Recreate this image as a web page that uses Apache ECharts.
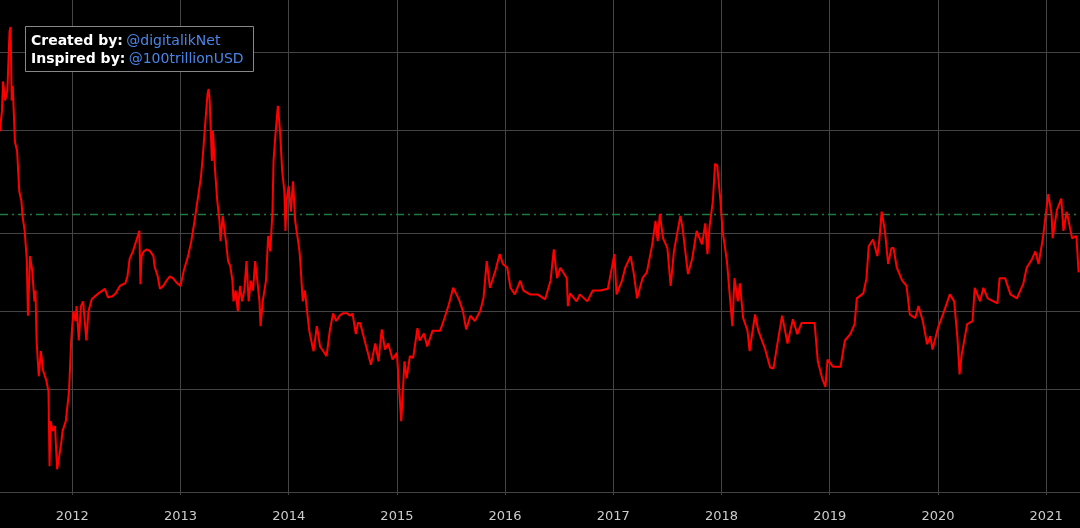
<!DOCTYPE html>
<html>
<head>
<meta charset="utf-8">
<script src="https://cdn.jsdelivr.net/npm/echarts@6/dist/echarts.min.js"></script>
<style>
  html, body { margin: 0; padding: 0; background: #000; }
  #chart { width: 1080px; height: 528px; }
</style>
</head>
<body>
<div id="chart"></div>
<script>
// decimal years
var years = [
  2011.33, 2011.35, 2011.36, 2011.38, 2011.40, 2011.42, 2011.43, 2011.44, 2011.45, 2011.47,
  2011.49, 2011.51, 2011.53, 2011.54, 2011.56, 2011.58, 2011.59, 2011.61, 2011.63, 2011.65,
  2011.66, 2011.67, 2011.69, 2011.71, 2011.73, 2011.76, 2011.78, 2011.79, 2011.80, 2011.82,
  2011.84, 2011.86, 2011.88, 2011.90, 2011.91, 2011.94, 2011.97, 2011.99, 2012.01, 2012.03,
  2012.04, 2012.06, 2012.08, 2012.10, 2012.13, 2012.15, 2012.18, 2012.21, 2012.24, 2012.28,
  2012.30, 2012.33, 2012.37, 2012.40, 2012.44, 2012.47, 2012.49, 2012.51, 2012.53, 2012.56,
  2012.59, 2012.62, 2012.63, 2012.64, 2012.66, 2012.69, 2012.72, 2012.75, 2012.76, 2012.79,
  2012.81, 2012.84, 2012.87, 2012.90, 2012.93, 2012.97, 2013.00, 2013.03, 2013.07, 2013.10,
  2013.13, 2013.15, 2013.17, 2013.19, 2013.21, 2013.23, 2013.25, 2013.26, 2013.27, 2013.29,
  2013.30, 2013.32, 2013.34, 2013.36, 2013.37, 2013.39, 2013.42, 2013.44, 2013.46, 2013.48,
  2013.49, 2013.51, 2013.53, 2013.55, 2013.57, 2013.59, 2013.61, 2013.63, 2013.65, 2013.67,
  2013.69, 2013.71, 2013.73, 2013.74, 2013.76, 2013.79, 2013.81, 2013.83, 2013.85, 2013.86,
  2013.88, 2013.90, 2013.92, 2013.94, 2013.96, 2013.97, 2013.98, 2014.00, 2014.02, 2014.04,
  2014.06, 2014.08, 2014.10, 2014.11, 2014.13, 2014.15, 2014.17, 2014.19, 2014.22, 2014.23,
  2014.26, 2014.29, 2014.32, 2014.35, 2014.38, 2014.41, 2014.44, 2014.47, 2014.50, 2014.54,
  2014.57, 2014.59, 2014.62, 2014.64, 2014.66, 2014.72, 2014.76, 2014.80, 2014.83, 2014.86,
  2014.89, 2014.92, 2014.96, 2015.00, 2015.01, 2015.04, 2015.07, 2015.09, 2015.12, 2015.15,
  2015.19, 2015.21, 2015.25, 2015.28, 2015.33, 2015.40, 2015.44, 2015.48, 2015.52, 2015.56,
  2015.58, 2015.61, 2015.64, 2015.68, 2015.72, 2015.77, 2015.80, 2015.83, 2015.86, 2015.91,
  2015.95, 2015.98, 2016.02, 2016.05, 2016.09, 2016.14, 2016.17, 2016.23, 2016.30, 2016.37,
  2016.42, 2016.45, 2016.48, 2016.51, 2016.57, 2016.58, 2016.60, 2016.66, 2016.69, 2016.76,
  2016.81, 2016.88, 2016.95, 2017.01, 2017.03, 2017.08, 2017.11, 2017.16, 2017.19, 2017.22,
  2017.27, 2017.31, 2017.36, 2017.39, 2017.41, 2017.43, 2017.46, 2017.50, 2017.53, 2017.56,
  2017.62, 2017.64, 2017.69, 2017.73, 2017.77, 2017.82, 2017.85, 2017.87, 2017.89, 2017.92,
  2017.94, 2017.96, 2017.99, 2018.01, 2018.05, 2018.10, 2018.12, 2018.15, 2018.17, 2018.20,
  2018.24, 2018.26, 2018.31, 2018.34, 2018.40, 2018.45, 2018.48, 2018.51, 2018.56, 2018.61,
  2018.66, 2018.70, 2018.74, 2018.82, 2018.86, 2018.89, 2018.93, 2018.96, 2018.98, 2019.03,
  2019.10, 2019.14, 2019.19, 2019.23, 2019.25, 2019.31, 2019.34, 2019.36, 2019.40, 2019.44,
  2019.46, 2019.48, 2019.51, 2019.54, 2019.57, 2019.59, 2019.62, 2019.67, 2019.71, 2019.74,
  2019.79, 2019.82, 2019.86, 2019.90, 2019.93, 2019.95, 2020.00, 2020.05, 2020.11, 2020.15,
  2020.18, 2020.20, 2020.22, 2020.27, 2020.32, 2020.34, 2020.39, 2020.42, 2020.46, 2020.55,
  2020.57, 2020.62, 2020.67, 2020.73, 2020.79, 2020.82, 2020.87, 2020.90, 2020.93, 2020.97,
  2021.02, 2021.05, 2021.06, 2021.10, 2021.14, 2021.16, 2021.19, 2021.24, 2021.28, 2021.30
];

var values = [
  49.5, 59, 77, 65, 71, 120, 125, 65, 74, 45,
  41.5, 29, 26.6, 23.3, 20.4, 15.6, 9.6, 16.3, 14.3, 10.9,
  12, 7.7, 5.6, 7.0, 5.9, 5.4, 4.9, 2.52, 3.76, 3.44,
  3.6, 2.45, 2.76, 3.15, 3.44, 3.76, 4.9, 7.7, 10, 9.15,
  10.45, 7.7, 10.45, 10.9, 7.7, 10, 11.1, 11.4, 11.7, 12,
  12.2, 11.3, 11.4, 11.7, 12.5, 12.7, 12.8, 13.6, 15.9, 17,
  18.6, 20.4, 12.7, 16.3, 17, 17.3, 17, 16.3, 14.9, 13.6,
  12.2, 12.5, 13.1, 13.6, 13.4, 12.8, 12.5, 14.3, 16.3, 18.6,
  22.3, 25.4, 29, 33.2, 41.5, 54, 69, 72, 65, 38,
  49.5, 34.7, 26.6, 22.3, 18.6, 23.3, 18.6, 15.6, 14.9, 13.1,
  10.9, 12, 10, 12.5, 10.9, 12, 15.6, 10.9, 13.1, 12,
  15.6, 13.1, 10.9, 8.75, 10.9, 13.1, 19.5, 17, 24.2, 38,
  49.5, 62, 49.5, 34.7, 29, 20.4, 26.6, 30.4, 24.2, 31.7,
  22.3, 19.5, 17, 14.9, 10.9, 12, 10, 8.4, 7.3, 7.0,
  8.75, 7.3, 7.0, 6.7, 8.4, 9.8, 9.15, 9.6, 9.8, 9.8,
  9.6, 9.8, 8.15, 9.0, 9.0, 7.2, 6.2, 7.5, 6.4, 8.5,
  7.1, 7.5, 6.5, 6.9, 5.9, 3.76, 6.4, 5.5, 6.7, 6.6,
  8.6, 7.7, 8.2, 7.3, 8.4, 8.4, 9.4, 10.6, 12.3, 11.4,
  10.9, 10, 8.5, 9.6, 9.15, 10, 11.2, 15.6, 12.3, 14.3,
  16.6, 15.2, 14.7, 12.3, 11.6, 13.1, 12, 11.6, 11.6, 11.1,
  13.1, 17.3, 13.4, 14.7, 13.4, 10.45, 11.7, 10.9, 11.6, 10.9,
  12, 12, 12.2, 16.6, 11.6, 13.1, 14.7, 16.3, 13.9, 11.2,
  13.4, 14.1, 18.1, 22.3, 18.6, 23.7, 19.1, 17.5, 12.5, 17,
  23.3, 20.9, 13.9, 16, 20.4, 18.1, 21.8, 16.6, 21.3, 26.6,
  37, 36.5, 26.6, 20.4, 15.6, 8.75, 13.4, 10.9, 12.8, 9.4,
  8.4, 7.0, 9.7, 8.4, 7.2, 6.05, 6.0, 7.2, 9.6, 7.5,
  9.3, 8.15, 9.0, 9.0, 9.0, 6.4, 5.5, 5.1, 6.5, 6.1,
  6.1, 7.7, 8.15, 8.9, 11.2, 11.7, 13.4, 17.8, 18.9, 16.3,
  19.1, 24.2, 20.4, 15.2, 17.5, 17.5, 14.7, 13.1, 12.5, 9.7,
  9.4, 10.45, 9.15, 7.45, 8.0, 7.1, 8.6, 9.8, 11.6, 10.9,
  7.9, 5.7, 6.8, 8.9, 9.15, 12.3, 10.9, 12.3, 11.2, 10.7,
  13.4, 13.4, 11.6, 11.2, 12.8, 14.7, 15.9, 17, 15.2, 19.1,
  28.3, 23.7, 19.1, 24.6, 27.2, 20.4, 24.2, 19.1, 19.5, 14.1
];

var yearTicks = [2012, 2013, 2014, 2015, 2016, 2017, 2018, 2019, 2020, 2021];
var levelTicks = [2, 5, 10, 20, 50, 100];
var threshold = 23.7;

var chart = echarts.init(document.getElementById('chart'));

var points = [];
for (var i = 0; i < years.length; i++) {
  points.push([years[i], values[i]]);
}

var gridColor = '#444444';

var option = {
  backgroundColor: '#000000',
  animation: false,
  grid: { left: 0, right: 0, top: 0, bottom: 33 },
  xAxis: {
    type: 'value',
    min: 2011.332,
    max: 2021.313,
    axisLine: { show: false },
    axisTick: { show: false },
    splitLine: { show: false },
    axisLabel: {
      customValues: yearTicks,
      color: '#cccccc',
      fontSize: 13,
      fontFamily: 'DejaVu Sans',
      margin: 15,
      formatter: function (v) { return String(Math.round(v)); }
    }
  },
  yAxis: {
    type: 'log',
    logBase: 10,
    min: 1.95,
    max: 158.8,
    axisLine: { show: false },
    axisTick: { show: false },
    axisLabel: { show: false },
    splitLine: { show: false }
  },
  series: [{
    type: 'line',
    data: [],
    silent: true,
    markLine: {
      silent: true,
      symbol: 'none',
      label: { show: false },
      lineStyle: { color: gridColor, type: 'solid', width: 1 },
      data: yearTicks.map(function (y) { return { xAxis: y }; })
        .concat(levelTicks.map(function (v) { return { yAxis: v }; }))
    }
  }, {
    type: 'line',
    data: [],
    silent: true,
    color: '#1d7a44',
    markLine: {
      silent: true,
      symbol: 'none',
      label: { show: false },
      lineStyle: { color: '#1d7a44', opacity: 1, type: [8, 4, 2, 4], width: 1.3 },
      data: [{ yAxis: threshold, lineStyle: { color: '#1d7a44', opacity: 1 } }]
    }
  }, {
    type: 'line',
    data: points,
    showSymbol: false,
    lineStyle: { color: '#ff0000', width: 2 },
    z: 5
  }],
  graphic: [{
    type: 'rect',
    left: 25,
    top: 26,
    z: 100,
    zlevel: 2,
    shape: { width: 228, height: 45 },
    style: { fill: '#000000', stroke: '#888888', lineWidth: 1 }
  }, {
    type: 'text',
    left: 31,
    top: 32,
    z: 101,
    zlevel: 2,
    style: {
      text: '{b|Created by:} {l|@digitalikNet}\n{b|Inspired by:} {l|@100trillionUSD}',
      lineHeight: 18,
      rich: {
        b: { fill: '#ffffff', fontWeight: 'bold', fontSize: 14, fontFamily: 'DejaVu Sans', lineHeight: 18 },
        l: { fill: '#4a86e8', fontSize: 14, fontFamily: 'DejaVu Sans', lineHeight: 18 }
      }
    }
  }]
};

chart.setOption(option);
</script>
</body>
</html>
